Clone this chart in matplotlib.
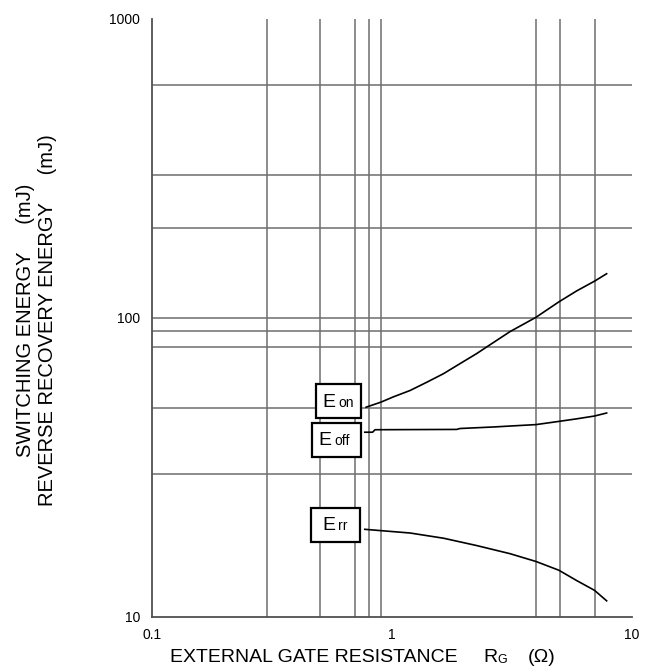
import matplotlib
matplotlib.use("Agg")
import matplotlib.pyplot as plt
from matplotlib.patches import Rectangle

plt.rcParams["font.family"] = ["Liberation Sans", "DejaVu Sans"]

# gridline positions (irregular, as in the datasheet)
grid_x = [0.3, 0.5, 0.7, 0.8, 0.9, 4, 5, 7]
grid_y = [30, 50, 80, 90, 100, 200, 300, 600]

# tick labels
x_ticks = [0.1, 1, 10]
x_tick_labels = ["0.1", "1", "10"]
y_ticks = [10, 100, 1000]
y_tick_labels = ["10", "100", "1000"]

# curves
rg_on = [0.78, 0.9, 1.01, 1.19, 1.4, 1.64, 1.92, 2.25, 2.64, 3.1, 3.98, 4.96, 5.89, 6.98, 7.84]
e_on = [50.2, 52.2, 54.3, 57.1, 60.9, 65.0, 70.2, 75.8, 82.5, 89.8, 100.3, 113.0, 123.0, 132.5, 140.3]

rg_off = [0.77, 0.83, 0.85, 1.86, 1.92, 2.64, 3.41, 3.98, 4.96, 5.89, 6.98, 7.84]
e_off = [41.4, 41.4, 42.2, 42.3, 42.6, 43.1, 43.6, 43.9, 45.0, 45.9, 46.9, 48.0]

rg_rr = [0.77, 0.9, 1.19, 1.64, 2.25, 3.1, 3.98, 4.96, 5.89, 6.98, 7.84]
e_rr = [19.6, 19.4, 19.05, 18.3, 17.3, 16.25, 15.3, 14.3, 13.2, 12.25, 11.3]

W, H = 654, 666


def fx(px):
    return px / W


def fy(py):
    return 1 - py / H


fig = plt.figure(figsize=(W / 100, H / 100), dpi=100)
ax = fig.add_axes([fx(152), fy(616.7), 480 / W, 598 / H])
ax.set_xscale("log")
ax.set_yscale("log")
ax.set_xlim(0.1, 10)
ax.set_ylim(10, 1000)

grid_col = "#6e6e6e"
for gx in grid_x:
    ax.axvline(gx, color=grid_col, lw=1.1, zorder=1)
for gy in grid_y:
    ax.axhline(gy, color=grid_col, lw=1.1, zorder=1)

ax.plot(rg_on, e_on, color="black", lw=1.2, zorder=3)
ax.plot(rg_off, e_off, color="black", lw=1.2, zorder=3)
ax.plot(rg_rr, e_rr, color="black", lw=1.2, zorder=3)

ax.spines["top"].set_visible(False)
ax.spines["right"].set_visible(False)
for s in ["left", "bottom"]:
    ax.spines[s].set_color("#505050")
    ax.spines[s].set_linewidth(1.3)

ax.minorticks_off()
ax.set_xticks(x_ticks)
ax.set_xticklabels(x_tick_labels)
ax.set_yticks(y_ticks)
ax.set_yticklabels(y_tick_labels)
ax.tick_params(axis="x", length=0, pad=8, labelsize=10)
ax.tick_params(axis="y", length=0, pad=8.6, labelsize=10)
ax.tick_params(which="minor", length=0)

# axis titles
fig.text(fx(170), fy(661.7), "EXTERNAL GATE RESISTANCE", fontsize=14, ha="left", va="baseline")
fig.text(fx(483), fy(661.7), "R", fontsize=14, ha="left", va="baseline")
fig.text(fx(497), fy(663), "G", fontsize=9, ha="left", va="baseline")
fig.text(fx(528), fy(661.7), "(Ω)", fontsize=14, ha="left", va="baseline")
fig.text(fx(37), fy(320), "SWITCHING ENERGY     (mJ)\nREVERSE RECOVERY ENERGY     (mJ)",
         fontsize=14.5, rotation=90, ha="center", va="center",
         multialignment="center", linespacing=1.2)

# boxed curve labels
labels = [
    # box x0, x1, y0, y1, E left, baseline, sub left, sub text
    (316, 361, 384, 418, 322, 406.7, 338, "on"),
    (311.7, 360.7, 423, 457, 318, 445, 334, "off"),
    (310.7, 360, 507.7, 542.3, 322, 530, 338, "rr"),
]
for x0, x1, y0, y1, ex, eb, sx, sub in labels:
    fig.add_artist(Rectangle((fx(x0), fy(y1)), (x1 - x0) / W, (y1 - y0) / H,
                             transform=fig.transFigure, facecolor="white",
                             edgecolor="black", lw=1.6, zorder=4))
    fig.text(fx(ex), fy(eb), "E", fontsize=14, ha="left", va="baseline", zorder=5)
    fig.text(fx(sx), fy(eb), sub, fontsize=10, ha="left", va="baseline", zorder=5)

fig.savefig("out.png", dpi=100)
